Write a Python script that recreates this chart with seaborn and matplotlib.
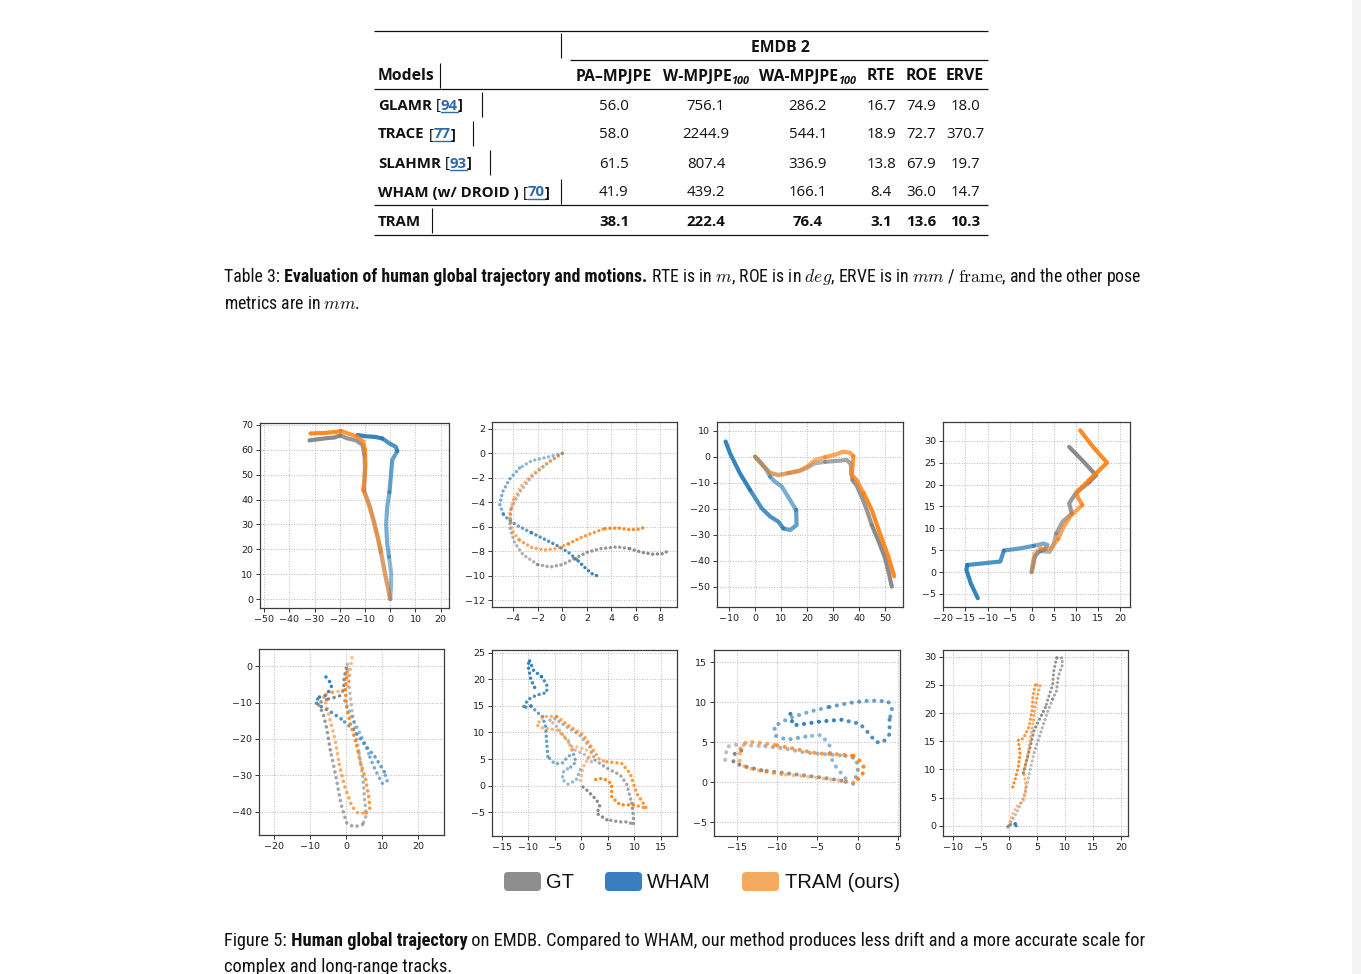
import matplotlib
matplotlib.use("Agg")
import matplotlib.pyplot as plt
import numpy as np
import seaborn as sns
from matplotlib import font_manager as fm
from matplotlib.patches import FancyBboxPatch, Rectangle

W, H = 1361, 974

# ---------------- table data ----------------
table_models = ["GLAMR", "TRACE", "SLAHMR", "WHAM (w/ DROID )", "TRAM"]
table_refs = ["94", "77", "93", "70", None]
table_cols = ["PA–MPJPE", "W-MPJPE", "WA-MPJPE", "RTE", "ROE", "ERVE"]
table_subs = [None, "100", "100", None, None, None]
table_vals = [
    [56.0, 756.1, 286.2, 16.7, 74.9, 18.0],
    [58.0, 2244.9, 544.1, 18.9, 72.7, 370.7],
    [61.5, 807.4, 336.9, 13.8, 67.9, 19.7],
    [41.9, 439.2, 166.1, 8.4, 36.0, 14.7],
    [38.1, 222.4, 76.4, 3.1, 13.6, 10.3],
]
legend_labels = ["GT", "WHAM", "TRAM (ours)"]

# ---------------- trajectories (x, y) ----------------
p1_gt = [(0, 0), (-1.2, 6), (-2.4, 12), (-3.8, 19), (-5, 25), (-6.5, 31.5), (-8, 37), (-10.3, 43.5),
         (-10.2, 48), (-10, 53), (-10.2, 58), (-11, 62), (-13.5, 63.8), (-17, 64.6), (-19.8, 65.8),
         (-22, 65), (-26, 64.6), (-32, 63.8)]
p1_wham = [(0, 0), (0.3, 5), (0.4, 10.3), (-0.5, 17), (-1.2, 22.4), (-1.6, 30), (-1.2, 37), (-0.3, 43),
           (0.3, 50), (0.8, 55.9), (2.8, 59.5), (2.2, 61.2), (-0.3, 62.6), (-2, 63.8), (-3.2, 64.6),
           (-6, 65.2), (-10, 65.5), (-13, 66)]
p1_tram = [(0, 0), (-1.2, 6), (-2.2, 11), (-3.8, 20.4), (-5.5, 27), (-7.2, 33.5), (-8.8, 39), (-10.7, 43.9),
           (-10.2, 48), (-9.8, 54), (-10, 60), (-10.8, 63.5), (-13, 65.3), (-16.5, 66.5), (-19.5, 67.6),
           (-21.5, 67.2), (-26, 66.8), (-31.6, 66.6)]

p2_gt = [(0, 0), (-1.2, -0.8), (-2.5, -1.9), (-3.5, -3.2), (-4.2, -4.6), (-4.3, -6), (-3.9, -7.3),
         (-3.2, -8.3), (-2, -9.1), (-1, -9.3), (0, -9.1), (1, -8.6), (2, -8.1), (3.1, -7.8), (4.5, -7.65),
         (5.5, -7.8), (6.5, -8.1), (7.4, -8.25), (8.3, -8.2), (8.7, -7.9)]
p2_wham = [(0, 0), (-1.2, -0.3), (-2.5, -0.6), (-3.5, -1.2), (-4.3, -2.1), (-4.9, -3.2), (-5.1, -4.2),
           (-4.8, -5.0), (-4.3, -5.5), (-3.5, -6.0), (-2.5, -6.5), (-1.5, -7.0), (-0.5, -7.5), (0.5, -8.1),
           (1.3, -8.8), (2, -9.5), (2.5, -9.9), (2.8, -10.0)]
p2_tram = [(0, 0), (-1, -0.6), (-2.3, -1.6), (-3.3, -2.6), (-4, -3.8), (-4.3, -5), (-4.1, -6.3),
           (-3.5, -7.1), (-2.5, -7.7), (-1.5, -7.9), (-0.5, -7.8), (0.5, -7.4), (1.5, -6.9), (2.5, -6.5),
           (3.5, -6.15), (4.5, -6.1), (5.5, -6.25), (6.3, -6.2), (6.8, -6.0)]

p3_gt = [(0, 0), (2.9, -3.2), (5.8, -6.2), (9, -7), (13, -6.3), (17.3, -5.4), (20, -4.3), (23, -2.6),
         (27, -2), (31, -1.7), (35.3, -1.3), (36.8, -2.8), (37, -6.4), (37.5, -9), (39, -11), (41, -15.4),
         (43, -20.5), (44.9, -26.3), (47.5, -32.5), (50, -39), (51.5, -45), (52.6, -50)]
p3_wham = [(0, 0), (2, -2), (4, -4.5), (5.8, -7.7), (7.5, -9.5), (10.3, -11.5), (13.5, -16.7),
           (15.8, -20.5), (16, -26.3), (13.5, -28.2), (10.9, -27.6), (9, -25), (5.8, -23), (2.6, -19.9),
           (-1.9, -12.8), (-5.8, -6.4), (-9.6, 1.3), (-11.3, 5.8)]
p3_tram = [(0, 0), (3, -3.5), (6, -6.5), (9, -7.2), (13, -6.3), (17, -5.5), (20, -3.8), (23, -1.3),
           (27, -0.2), (31, 0.8), (34, 1.9), (36.5, 1.5), (37.8, 0.2), (37.6, -3.2), (37.2, -7), (39.1, -9),
           (41.7, -14), (44.9, -20.5), (48, -29.5), (51.3, -38.5), (53.5, -46)]

p4_gt = [(0, 0), (0.5, 2), (0.8, 3.9), (2, 4.8), (4.1, 4.6), (5, 6.5), (5.6, 8.8), (7, 11.5), (9.1, 13.4),
         (8.5, 15.7), (10, 18), (13, 20.5), (14.6, 22.1), (12, 25), (8.5, 28.6)]
p4_wham = [(0, 0), (0.5, 3), (1.5, 4.6), (3, 5.2), (3.6, 6.2), (2.7, 6.5), (0.5, 6), (-2.6, 5.4),
           (-5.6, 5), (-6.3, 4.9), (-7.1, 2.4), (-10.8, 2), (-14.6, 1.6), (-14.8, 0.5), (-13.8, -2.6),
           (-12.2, -6)]
p4_tram = [(0, 0), (0.3, 2), (0.7, 4.5), (2, 5.4), (3.5, 5.2), (4.5, 5.5), (6, 7.5), (7.2, 10.3), (9, 13),
           (11.5, 15.3), (10.5, 17), (10.2, 18.3), (13, 21), (17.1, 25), (14, 28.5), (11, 32.4)]

p5_gt = [(0.3, 0.5), (0.8, -6), (1.5, -12), (2.5, -18), (3.5, -24), (4.5, -30), (5, -36), (5.5, -41),
         (4.5, -43.5), (2, -44.2), (0, -43), (-1.5, -38), (-3, -30), (-4.5, -23), (-5.5, -17),
         (-6.5, -13), (-8, -10.2), (-5, -9), (-2, -8.3), (-0.8, -6.5), (-0.6, -3), (0.3, 0.8)]
p5_wham = [(-0.5, -9.5), (1, -13), (3, -17), (5, -21), (6.5, -25), (8, -28.5), (10, -32.3), (11.3, -31.5),
           (10.5, -29), (8, -25), (5, -21.5), (2, -17.5), (-1.5, -14.5), (-4.5, -12.5), (-7.8, -10.7),
           (-8.7, -9.8), (-7.5, -8.5), (-5.5, -8), (-4, -5.2), (-5, -3.8), (-6.2, -2.4)]
p5_tram = [(1.5, 2.3), (1, -2), (0.5, -5.5), (-1, -6.8), (-4, -7.2), (-6.5, -8), (-5.5, -11), (-4.5, -15),
           (-3.2, -20), (-2, -27), (-0.5, -33), (1.5, -38.5), (3.3, -40.5), (5.5, -40.3), (6.5, -39),
           (6.2, -36), (5.3, -31), (3.9, -26.5), (2.5, -20.5), (1, -15.5), (0, -11), (-0.3, -6), (0.2, -1)]

p6_gt = [(1.9, 4.5), (0.7, 5.8), (-1.2, 6.7), (-2.8, 8.6), (-4.6, 11.1), (-5.9, 12.3), (-5, 12.6),
         (-2.8, 11.1), (-0.3, 9.5), (1.6, 7.3), (2.6, 4.8), (4.8, 3.3), (7.3, 2), (8.5, 0.4), (9.5, -3.3),
         (9.8, -5.8), (9.8, -7.4), (8.9, -6.8), (7.3, -6.8), (4.8, -6.4), (2.9, -5.2), (3.5, -3.9),
         (2.9, -2.7), (1, -0.8), (0, 0)]
p6_wham = [(-0.2, 3), (-1, 1), (-2.5, 0.3), (-3.6, 1.2), (-3.3, 2.8), (-2, 3.5), (-1, 4.5), (-1.5, 6),
           (-2.5, 5.5), (-3.5, 4.3), (-5, 4.1), (-6.3, 5.5), (-6.5, 8), (-6.7, 11), (-7.3, 13), (-8.3, 13.8),
           (-9.5, 15), (-11, 14.6), (-10, 16.2), (-8.5, 17), (-6.5, 17.5), (-6.5, 19), (-7.5, 20.5),
           (-9, 21.7), (-9.8, 23.7), (-10, 22.5), (-9.5, 20), (-8.7, 18.3)]
p6_tram = [(-0.2, 1), (0.4, 3.6), (1.9, 6.1), (1, 6.7), (-0.9, 7.3), (-1.8, 6.7), (-2.5, 8.6), (-4.6, 10.5),
           (-7.2, 10.8), (-8.4, 11.4), (-7.2, 13), (-4.6, 13), (-2.1, 11.1), (0.4, 9.5), (1.9, 7.3),
           (3.5, 4.8), (4.8, 4.5), (7.6, 4.2), (9.2, 2.3), (10.4, -1.4), (12.3, -4.3), (11.4, -4),
           (9.8, -3.6), (7.3, -3.6), (5.7, -2.1), (5.7, 0.4), (4.1, 1.4), (2.3, 1.1)]

p7_gt = [(-16.5, 2.8), (-16.3, 4.4), (-15.5, 4.7), (-13.5, 4.6), (-11.5, 4.5), (-9, 4.2), (-6.5, 3.7),
         (-4, 3.5), (-1.5, 3.3), (-0.2, 3.0), (0.1, 1.8), (-0.3, 0.3), (-0.5, -0.2), (-2, 0.2), (-4.5, 0.6),
         (-7, 0.9), (-9.5, 1.2), (-12, 1.5), (-14.2, 2.0), (-15.5, 2.5), (-15.3, 3.6), (-14, 4.2)]
p7_wham = [(-1.5, 0.5), (-2.6, 1.8), (-3.4, 3.2), (-3.5, 4.6), (-4.5, 5.9), (-6.5, 5.7), (-8.8, 5.3),
           (-10.2, 5.8), (-10.4, 7.0), (-8.5, 8.0), (-6, 8.8), (-3.5, 9.4), (-1, 9.9), (1.5, 10.2),
           (3.8, 10.1), (4.3, 9.2), (4.0, 7.8), (4.0, 6.0), (3.2, 5.0), (2.3, 5.0), (1.5, 6.0), (0.3, 7.3),
           (-2, 7.8), (-4.5, 7.6), (-6.5, 7.3), (-8, 7.1), (-8.3, 8.0), (-8.4, 8.8)]
p7_tram = [(-0.5, 0.0), (-2, 0.2), (-4.5, 0.5), (-7, 0.8), (-9.5, 1.0), (-12, 1.4), (-14, 1.9),
           (-14.8, 2.8), (-14.6, 4.2), (-13.8, 5.1), (-12, 4.9), (-10, 4.6), (-7.5, 4.1), (-5, 3.6),
           (-2.5, 3.5), (-0.5, 3.3), (0.5, 2.5), (0.9, 1.6), (0.4, 0.6), (-0.3, 0.2)]

p8_gt = [(0, 0), (1.5, 2.5), (2.6, 5), (3.3, 7.5), (3.8, 10), (4.5, 13), (5.5, 16), (6.3, 18.5), (7, 20.5),
         (7.8, 22.5), (8.5, 24), (8.8, 26.5), (9.5, 28.5), (9.5, 29.8), (8.5, 29.8), (8, 27.5), (7.8, 25),
         (7.3, 23.5), (6.5, 21), (5.5, 19), (4.5, 17), (3.8, 14), (3, 11), (2.5, 9)]
p8_wham = [(0, 0), (-0.2, -0.2), (0.3, 0.2), (0.8, 0.2), (1.2, 0.4), (1.3, 0), (0.8, 0.1)]
p8_tram = [(0, 0), (0.6, 2), (1.5, 3.5), (2.7, 4.6), (3, 6), (3, 7.8), (2.6, 9.5), (3.3, 12), (3.8, 15.2),
           (4.4, 18.8), (4.7, 21.4), (5.2, 23.5), (5.6, 25), (4.7, 25), (4.3, 23), (4.1, 20.2),
           (3.6, 17.6), (2.6, 15.5), (1.7, 15.2), (2, 12.8), (1.7, 10.5), (1.2, 8.5), (0.5, 6.2)]

# panel layout: pixel box (left, top, right, bottom), limits, ticks, dot gap (None = solid)
panels = [
    dict(tracks=(p1_gt, p1_wham, p1_tram), box=(260, 423, 449, 608), xlim=(-51.6, 23.3), ylim=(-3.6, 70.8),
         xt=range(-50, 21, 10), yt=range(0, 71, 10), dots=None, lw=3.0),
    dict(tracks=(p2_gt, p2_wham, p2_tram), box=(492, 422, 677, 607), xlim=(-5.74, 9.36), ylim=(-12.57, 2.57),
         xt=range(-4, 9, 2), yt=range(-12, 3, 2), dots=1.35, lw=2.5),
    dict(tracks=(p3_gt, p3_wham, p3_tram), box=(717, 422, 903, 607), xlim=(-14.6, 56.9), ylim=(-57.8, 13.3),
         xt=range(-10, 51, 10), yt=range(-50, 11, 10), dots=None, lw=3.0),
    dict(tracks=(p4_gt, p4_wham, p4_tram), box=(943, 422, 1130, 607), xlim=(-20.1, 22.3), ylim=(-8.0, 34.3),
         xt=range(-20, 21, 5), yt=range(-5, 31, 5), dots=None, lw=3.0),
    dict(tracks=(p5_gt, p5_wham, p5_tram), box=(259, 649, 444, 835), xlim=(-24.3, 27.1), ylim=(-46.4, 4.7),
         xt=range(-20, 21, 10), yt=range(-40, 1, 10), dots=1.6, lw=2.6),
    dict(tracks=(p6_gt, p6_wham, p6_tram), box=(492, 650, 677, 836), xlim=(-16.8, 18.0), ylim=(-9.45, 25.5),
         xt=range(-15, 16, 5), yt=range(-5, 26, 5), dots=1.45, lw=2.5),
    dict(tracks=(p7_gt, p7_wham, p7_tram), box=(714, 650, 900, 836), xlim=(-17.9, 5.3), ylim=(-6.7, 16.5),
         xt=range(-15, 6, 5), yt=range(-5, 16, 5), dots=1.8, lw=3.0),
    dict(tracks=(p8_gt, p8_wham, p8_tram), box=(943, 650, 1128, 836), xlim=(-11.7, 21.2), ylim=(-1.8, 31.2),
         xt=range(-10, 21, 5), yt=range(0, 31, 5), dots=1.35, lw=2.3),
]

TRACK_COLORS = ["#7f7f7f", "#1f77b4", "#ff7f0e"]
LEGEND_COLORS = ["#8e8e8e", "#3a7ebf", "#f5aa62"]
CITE = "#2e6aa8"

sns.set_style("whitegrid", {"xtick.bottom": True, "ytick.left": True})
plt.rcParams["font.family"] = ["DejaVu Sans"]
plt.rcParams["mathtext.fontset"] = "cm"


def _is_bold(w):
    try:
        return int(w) >= 600
    except (TypeError, ValueError):
        return str(w).lower() in ("bold", "semibold", "demibold", "heavy", "black", "extra bold")


ttf = fm.fontManager.ttflist
avail = {f.name for f in ttf}
CAP_FAMILY = next((n for n in ["Liberation Sans Narrow", "DejaVu Sans Condensed", "Roboto Condensed",
                               "Open Sans Condensed"] if n in avail), "Roboto")
TAB_FAMILY = next((n for n in ["Open Sans", "Noto Sans", "Lato", "Roboto", "DejaVu Sans"]
                   if any(f.name == n and _is_bold(f.weight) for f in ttf)), "DejaVu Sans")

fig = plt.figure(figsize=(W / 100, H / 100), dpi=100, facecolor="white")
ax0 = fig.add_axes([0, 0, 1, 1])
ax0.set_xlim(0, W)
ax0.set_ylim(H, 0)
ax0.axis("off")
rend = fig.canvas.get_renderer()


def runs(parts, x, y, size, align="left", family=None):
    family = family or TAB_FAMILY
    out = []
    for s, kw in parts:
        kw = dict(kw)
        dy = kw.pop("dy", 0)
        sz = kw.pop("size", size)
        fam = kw.pop("family", family)
        out.append(ax0.text(x, y + dy, s, fontsize=sz, family=fam, va="baseline", ha="left",
                            color=kw.pop("color", "#111111"), **kw))
    ws = [t.get_window_extent(renderer=rend).width for t in out]
    if align == "center":
        x -= sum(ws) / 2
    xs = []
    for t, w in zip(out, ws):
        t.set_x(x)
        xs.append(x)
        x += w
    return out, xs, ws


def hline(x0, x1, y, lw=0.9):
    ax0.plot([x0, x1], [y, y], color="#111111", lw=lw, solid_capstyle="butt")


def vline(x, y0, y1):
    ax0.plot([x, x], [y0, y1], color="#111111", lw=0.8, solid_capstyle="butt")


# ---------------- table ----------------
TS = 10.8
HS = 11.3
B = {"weight": "bold"}
BH = {"weight": "bold", "size": HS}
col_x = [614, 706, 808, 881, 921, 965]
hline(374, 988, 31)
vline(561, 33, 58)
runs([("EMDB 2", BH)], 780, 51.5, TS, align="center")
hline(570, 988, 60)
runs([("Models", BH)], 378, 80.5, TS)
vline(440, 63, 88)
for cx, name, sub in zip(col_x, table_cols, table_subs):
    parts = [(name, BH)]
    if sub:
        parts.append((sub, {"weight": "bold", "style": "italic", "size": 7.8, "dy": 3}))
    runs(parts, cx, 80.5, TS, align="center")
hline(374, 988, 89)

row_base = [109.5, 138.5, 167.5, 196.5, 225.5]
row_bars = [482, 473, 490, 561, 432]
row_bar_top = [92, 121, 150, 179, 208]
for i, (name, ref, vals) in enumerate(zip(table_models, table_refs, table_vals)):
    yb = row_base[i]
    parts = [(name, B)]
    if ref:
        parts += [(" [", {}), (ref, {"weight": "bold", "color": CITE}), ("]", B)]
    txts, xs, ws = runs(parts, 378, yb, TS)
    if ref:
        ax0.plot([xs[2] + 0.5, xs[2] + ws[2] + 0.5], [yb + 2.5, yb + 2.5], color=CITE, lw=1.0)
    vline(row_bars[i], row_bar_top[i], row_bar_top[i] + 25)
    kw = B if name == "TRAM" else {}
    for cx, v in zip(col_x, vals):
        runs([(f"{v:.1f}", kw)], cx, yb, TS, align="center")
    if i == 3:
        hline(374, 988, 205)
hline(374, 988, 235)


# ---------------- captions ----------------
def caption(lines, y0, dy, target):
    probe, _, ws = runs(lines[0], -2000, -2000, 10, family=CAP_FAMILY)
    size = 10 * target / sum(ws)
    for t in probe:
        t.remove()
    for k, parts in enumerate(lines):
        runs(parts, 224, y0 + k * dy, size, family=CAP_FAMILY)


caption([[("Table 3:", {}), (" Evaluation of human global trajectory and motions.", B),
          (" RTE is in $m$, ROE is in $deg$, ERVE is in $mm$ / $\\mathrm{frame}$, and the other pose", {})],
         [("metrics are in $mm$.", {})]], 282, 27, 915)
caption([[("Figure 5:", {}), (" Human global trajectory", B),
          (" on EMDB. Compared to WHAM, our method produces less drift and a more accurate scale for", {})],
         [("complex and long-range tracks.", {})]], 946, 26, 915)

# ---------------- legend ----------------
leg_box_x = [504, 605, 742]
leg_txt_x = [546, 647, 785]
for bx, tx, lab, c in zip(leg_box_x, leg_txt_x, legend_labels, LEGEND_COLORS):
    ax0.add_patch(FancyBboxPatch((bx, 872), 37, 19, boxstyle="round,pad=0,rounding_size=4",
                                 fc=c, ec="none"))
    ax0.text(tx, 882, lab, fontsize=14.5, family="Liberation Sans", va="center", ha="left", color="#111111")

# right scrollbar strip
ax0.add_patch(Rectangle((1352, 0), 9, H, fc="#f3f3f3", ec="none"))


# ---------------- trajectory panels ----------------
def draw_track(ax, pts, color, dots, lw):
    n = len(pts)
    k = min(5, n - 1)
    edges = np.linspace(0, n - 1, k + 1).round().astype(int)
    for j in range(k):
        seg = pts[edges[j]:edges[j + 1] + 1]
        alpha = 0.45 + 0.5 * (j + 0.5) / k
        style = dict(solid_capstyle="round", solid_joinstyle="round")
        if dots:
            style = dict(linestyle=(0, (0.01, dots)), dash_capstyle="round")
        sns.lineplot(x=[p[0] for p in seg], y=[p[1] for p in seg], sort=False, estimator=None,
                     color=color, alpha=alpha, lw=lw, ax=ax, **style)


for p in panels:
    l, t, r, b = p["box"]
    ax = fig.add_axes([l / W, 1 - b / H, (r - l) / W, (b - t) / H])
    for pts, c in zip(p["tracks"], TRACK_COLORS):
        draw_track(ax, pts, c, p["dots"], p["lw"])
    ax.set_xlim(*p["xlim"])
    ax.set_ylim(*p["ylim"])
    ax.set_xticks(list(p["xt"]))
    ax.set_yticks(list(p["yt"]))
    ax.set(xlabel="", ylabel="")
    ax.set_axisbelow(True)
    ax.grid(True, ls=":", lw=0.7, color="#b8b8b8")
    ax.tick_params(labelsize=6.8, length=3, width=0.7, color="#333333", labelcolor="#222222", pad=2)
    for s in ax.spines.values():
        s.set_color("#3c3c3c")
        s.set_linewidth(0.9)

fig.savefig("out.png", dpi=100, facecolor="white")
